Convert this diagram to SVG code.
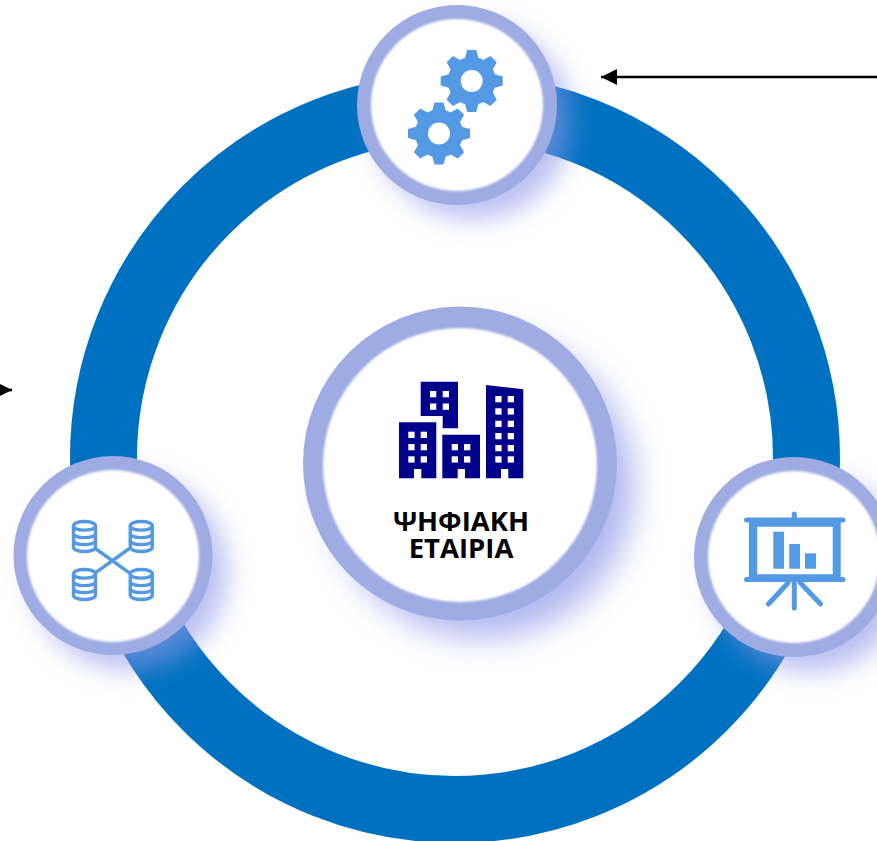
<svg xmlns="http://www.w3.org/2000/svg" xmlns:xlink="http://www.w3.org/1999/xlink" width="877" height="841" viewBox="0 0 877 841">
<style>
.shadow{fill:#8f9ae8;opacity:.62;filter:url(#soft)}
.shadow2{fill:#8f9ae8;opacity:.7;filter:url(#soft2)}
.rim{fill:#9facE3}
.face{fill:#fff;filter:url(#edge)}
.ico{fill:#5499e4}
.line{fill:none;stroke:#5499e4;stroke-linecap:round;stroke-linejoin:round}
.bld{fill:#00008b}
.win{fill:#fff}
.lbl{font-family:"Open Sans","Liberation Sans",sans-serif;font-weight:700;font-size:27.5px;fill:#000;text-anchor:middle}
.conn{stroke:#000;stroke-width:2.6;fill:none}
</style>
<defs>
<filter id="soft" x="-40%" y="-40%" width="180%" height="180%"><feGaussianBlur stdDeviation="13"/></filter>
<filter id="soft2" x="-40%" y="-40%" width="180%" height="180%"><feGaussianBlur stdDeviation="16"/></filter>
<filter id="edge" x="-5%" y="-5%" width="110%" height="110%"><feGaussianBlur stdDeviation="1"/></filter>
<marker id="head" markerUnits="userSpaceOnUse" markerWidth="18" markerHeight="18" refX="16" refY="8" orient="auto"><path d="M0,0L16,8L0,16Z" fill="#000"/></marker>
<g id="gear">
<circle r="24"/>
<g id="teeth"><polygon points="-7,-22 -4.5,-31 4.5,-31 7,-22"/><polygon points="-7,-22 -4.5,-31 4.5,-31 7,-22" transform="rotate(45)"/><polygon points="-7,-22 -4.5,-31 4.5,-31 7,-22" transform="rotate(90)"/><polygon points="-7,-22 -4.5,-31 4.5,-31 7,-22" transform="rotate(135)"/><polygon points="-7,-22 -4.5,-31 4.5,-31 7,-22" transform="rotate(180)"/><polygon points="-7,-22 -4.5,-31 4.5,-31 7,-22" transform="rotate(225)"/><polygon points="-7,-22 -4.5,-31 4.5,-31 7,-22" transform="rotate(270)"/><polygon points="-7,-22 -4.5,-31 4.5,-31 7,-22" transform="rotate(315)"/></g>
</g>
<g id="cyl" class="line" stroke-width="3.4">
<path d="M-11,-10.5C-11,-16.5 11,-16.5 11,-10.5V10.5C11,16.5 -11,16.5 -11,10.5Z"/>
<path d="M-11,-10.5C-11,-5 11,-5 11,-10.5"/>
<path d="M-11,-3C-11,2.5 11,2.5 11,-3"/>
<path d="M-11,4C-11,9.5 11,9.5 11,4"/>
</g>
</defs>
<rect width="877" height="841" fill="#fff"/>
<circle id="ring" cx="455" cy="458" r="351.5" fill="none" stroke="#0070c0" stroke-width="67"/>
<g id="connectors">
<line class="conn" x1="877" y1="77" x2="601" y2="77" marker-end="url(#head)"/>
<line class="conn" x1="-20" y1="390" x2="12" y2="390" marker-end="url(#head)"/>
</g>
<g id="node-top">
<circle class="shadow" cx="473" cy="121" r="98"/>
<circle class="rim" cx="457" cy="105" r="100"/>
<circle class="face" cx="457" cy="105" r="86"/>
<g class="ico">
<use xlink:href="#gear" href="#gear" x="471.7" y="81"/>
<use xlink:href="#gear" href="#gear" x="439" y="133.5" stroke="#fff" stroke-width="5"/>
<use xlink:href="#gear" href="#gear" x="439" y="133.5"/>
</g>
<circle cx="471.7" cy="81" r="11" fill="#fff"/>
<circle cx="439" cy="133.5" r="11" fill="#fff"/>
</g>
<g id="node-left">
<circle class="shadow" cx="129" cy="572" r="98"/>
<circle class="rim" cx="113" cy="555.5" r="99.5"/>
<circle class="face" cx="113" cy="556" r="86"/>
<use xlink:href="#cyl" href="#cyl" x="84.5" y="536.5"/>
<use xlink:href="#cyl" href="#cyl" x="141.3" y="536.5"/>
<use xlink:href="#cyl" href="#cyl" x="84.5" y="584.5"/>
<use xlink:href="#cyl" href="#cyl" x="141.3" y="584.5"/>
<path class="line" stroke-width="3.4" d="M96,549L128.7,572.3M96,572.3L128.7,549"/>
</g>
<g id="node-right">
<circle class="shadow" cx="810" cy="574" r="98"/>
<circle class="rim" cx="794" cy="557" r="100"/>
<circle class="face" cx="794" cy="557" r="86"/>
<path class="line" stroke-width="5" d="M746.5,520H843M746.5,579.5H843M794.3,514V520M794.3,581V608M788,583L768.5,604M800.5,583L820.5,604"/>
<path class="ico" fill-rule="evenodd" d="M749,520H840.7V581H749ZM757.3,526.7V574.3H832.7V526.7Z"/>
<rect class="ico" x="773.3" y="531.7" width="10.7" height="37"/>
<rect class="ico" x="789.3" y="544" width="10.7" height="24.7"/>
<rect class="ico" x="805" y="553.3" width="11" height="15.4"/>
</g>
<g id="node-center">
<circle class="shadow2" cx="482" cy="486" r="152"/>
<circle class="rim" cx="460" cy="463.5" r="157"/>
<circle class="face" cx="460" cy="465" r="137"/>
<path class="bld" d="M420.7,381.7H458V428.3H442.7V416H420.7Z"/>
<path class="bld" d="M399,422.3H436.3V478.3H421.3V469H414V478.3H399Z"/>
<path class="bld" d="M442.3,434.7H480V478.3H465V469H457.7V478.3H442.3Z"/>
<path class="bld" d="M486,385L523.3,389.3V478.3H508.3V469H501V478.3H486Z"/>
<g class="win">
<rect x="430" y="391" width="6.3" height="6.3"/><rect x="442.7" y="391" width="6.3" height="6.3"/>
<rect x="430" y="403.5" width="6.3" height="6.3"/><rect x="442.7" y="403.5" width="6.3" height="6.3"/>
<rect x="408.3" y="431.7" width="6.3" height="6.3"/><rect x="420.7" y="431.7" width="6.3" height="6.3"/>
<rect x="408.3" y="444" width="6.3" height="6.3"/><rect x="420.7" y="444" width="6.3" height="6.3"/>
<rect x="408.3" y="456.3" width="6.3" height="6.3"/><rect x="420.7" y="456.3" width="6.3" height="6.3"/>
<rect x="451.7" y="444" width="6.3" height="6.3"/><rect x="464" y="444" width="6.3" height="6.3"/>
<rect x="451.7" y="456.3" width="6.3" height="6.3"/><rect x="464" y="456.3" width="6.3" height="6.3"/>
<rect x="495.3" y="396" width="6.3" height="6.3"/><rect x="507.7" y="396" width="6.3" height="6.3"/>
<rect x="495.3" y="408.3" width="6.3" height="6.3"/><rect x="507.7" y="408.3" width="6.3" height="6.3"/>
<rect x="495.3" y="420.7" width="6.3" height="6.3"/><rect x="507.7" y="420.7" width="6.3" height="6.3"/>
<rect x="495.3" y="433" width="6.3" height="6.3"/><rect x="507.7" y="433" width="6.3" height="6.3"/>
<rect x="495.3" y="445" width="6.3" height="6.3"/><rect x="507.7" y="445" width="6.3" height="6.3"/>
<rect x="495.3" y="456.3" width="6.3" height="6.3"/><rect x="507.7" y="456.3" width="6.3" height="6.3"/>
</g>
<text class="lbl"><tspan x="461" y="531">ΨΗΦΙΑΚΗ</tspan><tspan x="461" y="557.5">ΕΤΑΙΡΙΑ</tspan></text>
</g>
</svg>
